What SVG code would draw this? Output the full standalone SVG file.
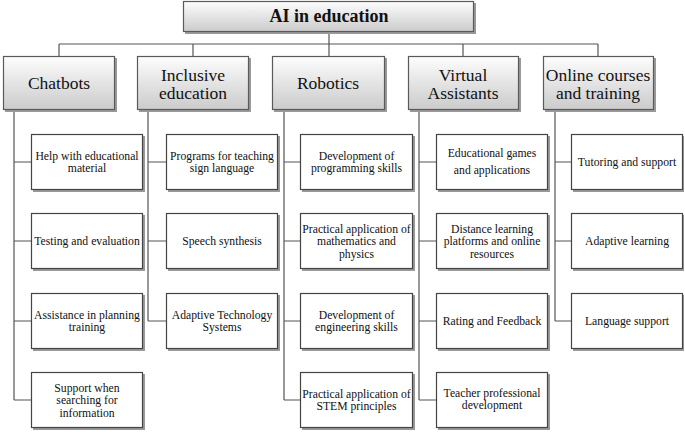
<svg xmlns="http://www.w3.org/2000/svg" width="685" height="432" viewBox="0 0 685 432">
<defs>
<linearGradient id="g" x1="0" y1="0" x2="0" y2="1">
<stop offset="0" stop-color="#fdfdfd"/>
<stop offset="1" stop-color="#cbcbcb"/>
</linearGradient>
<style>
.sh{fill:#9a9a9a}
.hd{fill:url(#g);stroke:#5a5a5a;stroke-width:1.2}
.bx{fill:#fff;stroke:#444;stroke-width:1.2}
.ln{fill:none;stroke:#555;stroke-width:1.2}
text{fill:#111;text-anchor:middle;font-family:"Liberation Serif","Times New Roman",serif}
.t1{font-size:18px;font-weight:bold}
.t2{font-size:17.5px}
.t3{font-size:11.7px}
</style>
</defs>
<rect width="685" height="432" fill="#fff"/>
<g id="connectors" class="ln">
<path d="M329 32V56M59 44H598M59 44V56M193 44V56M463 44V56M598 44V56"/>
<path d="M14 110V400M14 162H31M14 241H31M14 321H31M14 400H31"/>
<path d="M148 110V321M148 162H166M148 241H166M148 321H166"/>
<path d="M284 110V400M284 162H300M284 241H300M284 321H300M284 400H300"/>
<path d="M419 110V400M419 162H436M419 241H436M419 321H436M419 400H436"/>
<path d="M555 110V321M555 162H571M555 241H571M555 321H571"/>
</g>
<g id="root"><rect class="sh" x="185" y="3" width="291" height="31"/><rect class="hd" x="183.5" y="1.5" width="290" height="30"/><text class="t1" x="329" y="22">AI in education</text></g>
<g id="chatbots"><rect class="sh" x="5" y="58" width="112" height="54"/><rect class="hd" x="3.5" y="56.5" width="111" height="53"/><text class="t2" x="59" y="89">Chatbots</text></g>
<g id="inclusive"><rect class="sh" x="139" y="58" width="112" height="54"/><rect class="hd" x="137.5" y="56.5" width="111" height="53"/><text class="t2"><tspan x="193" y="80.5">Inclusive</tspan><tspan x="193" y="98.5">education</tspan></text></g>
<g id="robotics"><rect class="sh" x="274" y="58" width="113" height="54"/><rect class="hd" x="272.5" y="56.5" width="112" height="53"/><text class="t2" x="328" y="89">Robotics</text></g>
<g id="virtual"><rect class="sh" x="410" y="58" width="111" height="54"/><rect class="hd" x="408.5" y="56.5" width="110" height="53"/><text class="t2"><tspan x="463" y="80.5">Virtual</tspan><tspan x="463" y="98.5">Assistants</tspan></text></g>
<g id="online"><rect class="sh" x="545" y="58" width="111" height="54"/><rect class="hd" x="543.5" y="56.5" width="110" height="53"/><text class="t2"><tspan x="598" y="80.5">Online courses</tspan><tspan x="598" y="98.5">and training</tspan></text></g>

<g id="c1"><rect class="sh" x="33" y="136" width="112" height="56"/><rect class="bx" x="31.5" y="134.5" width="111" height="55"/><text class="t3"><tspan x="87" y="160">Help  with educational</tspan><tspan x="87" y="172">material</tspan></text></g>
<g id="c2"><rect class="sh" x="33" y="215" width="112" height="56"/><rect class="bx" x="31.5" y="213.5" width="111" height="55"/><text class="t3" x="87" y="245">Testing and evaluation</text></g>
<g id="c3"><rect class="sh" x="33" y="295" width="112" height="56"/><rect class="bx" x="31.5" y="293.5" width="111" height="55"/><text class="t3"><tspan x="87" y="319">Assistance in planning</tspan><tspan x="87" y="331">training</tspan></text></g>
<g id="c4"><rect class="sh" x="33" y="374" width="112" height="56"/><rect class="bx" x="31.5" y="372.5" width="111" height="55"/><text class="t3"><tspan x="87" y="391.5">Support when</tspan><tspan x="87" y="404">searching for</tspan><tspan x="87" y="416.5">information</tspan></text></g>

<g id="i1"><rect class="sh" x="168" y="136" width="112" height="56"/><rect class="bx" x="166.5" y="134.5" width="111" height="55"/><text class="t3"><tspan x="222" y="160">Programs for teaching</tspan><tspan x="222" y="172">sign language</tspan></text></g>
<g id="i2"><rect class="sh" x="168" y="215" width="112" height="56"/><rect class="bx" x="166.5" y="213.5" width="111" height="55"/><text class="t3" x="222" y="245">Speech synthesis</text></g>
<g id="i3"><rect class="sh" x="168" y="295" width="112" height="56"/><rect class="bx" x="166.5" y="293.5" width="111" height="55"/><text class="t3"><tspan x="222" y="319">Adaptive  Technology</tspan><tspan x="222" y="331">Systems</tspan></text></g>

<g id="r1"><rect class="sh" x="302" y="136" width="113" height="56"/><rect class="bx" x="300.5" y="134.5" width="112" height="55"/><text class="t3"><tspan x="356.5" y="160">Development of</tspan><tspan x="356.5" y="172">programming skills</tspan></text></g>
<g id="r2"><rect class="sh" x="302" y="215" width="113" height="56"/><rect class="bx" x="300.5" y="213.5" width="112" height="55"/><text class="t3"><tspan x="356.5" y="233">Practical application of</tspan><tspan x="356.5" y="245">mathematics and</tspan><tspan x="356.5" y="258">physics</tspan></text></g>
<g id="r3"><rect class="sh" x="302" y="295" width="113" height="56"/><rect class="bx" x="300.5" y="293.5" width="112" height="55"/><text class="t3"><tspan x="356.5" y="319">Development of</tspan><tspan x="356.5" y="331">engineering skills</tspan></text></g>
<g id="r4"><rect class="sh" x="302" y="374" width="113" height="56"/><rect class="bx" x="300.5" y="372.5" width="112" height="55"/><text class="t3"><tspan x="356.5" y="398">Practical application of</tspan><tspan x="356.5" y="410">STEM principles</tspan></text></g>

<g id="v1"><rect class="sh" x="438" y="136" width="112" height="56"/><rect class="bx" x="436.5" y="134.5" width="111" height="55"/><text class="t3"><tspan x="492" y="157">Educational games</tspan><tspan x="492" y="174">and applications</tspan></text></g>
<g id="v2"><rect class="sh" x="438" y="215" width="112" height="56"/><rect class="bx" x="436.5" y="213.5" width="111" height="55"/><text class="t3"><tspan x="492" y="233">Distance learning</tspan><tspan x="492" y="245">platforms and online</tspan><tspan x="492" y="258">resources</tspan></text></g>
<g id="v3"><rect class="sh" x="438" y="295" width="112" height="56"/><rect class="bx" x="436.5" y="293.5" width="111" height="55"/><text class="t3" x="492" y="325">Rating and Feedback</text></g>
<g id="v4"><rect class="sh" x="438" y="374" width="112" height="56"/><rect class="bx" x="436.5" y="372.5" width="111" height="55"/><text class="t3"><tspan x="492" y="397">Teacher professional</tspan><tspan x="492" y="409">development</tspan></text></g>

<g id="o1"><rect class="sh" x="573" y="136" width="111" height="56"/><rect class="bx" x="571.5" y="134.5" width="111" height="55"/><text class="t3" x="627" y="166">Tutoring and support</text></g>
<g id="o2"><rect class="sh" x="573" y="215" width="111" height="56"/><rect class="bx" x="571.5" y="213.5" width="111" height="55"/><text class="t3" x="627" y="245">Adaptive learning</text></g>
<g id="o3"><rect class="sh" x="573" y="295" width="111" height="56"/><rect class="bx" x="571.5" y="293.5" width="111" height="55"/><text class="t3" x="627" y="325">Language support</text></g>
</svg>
